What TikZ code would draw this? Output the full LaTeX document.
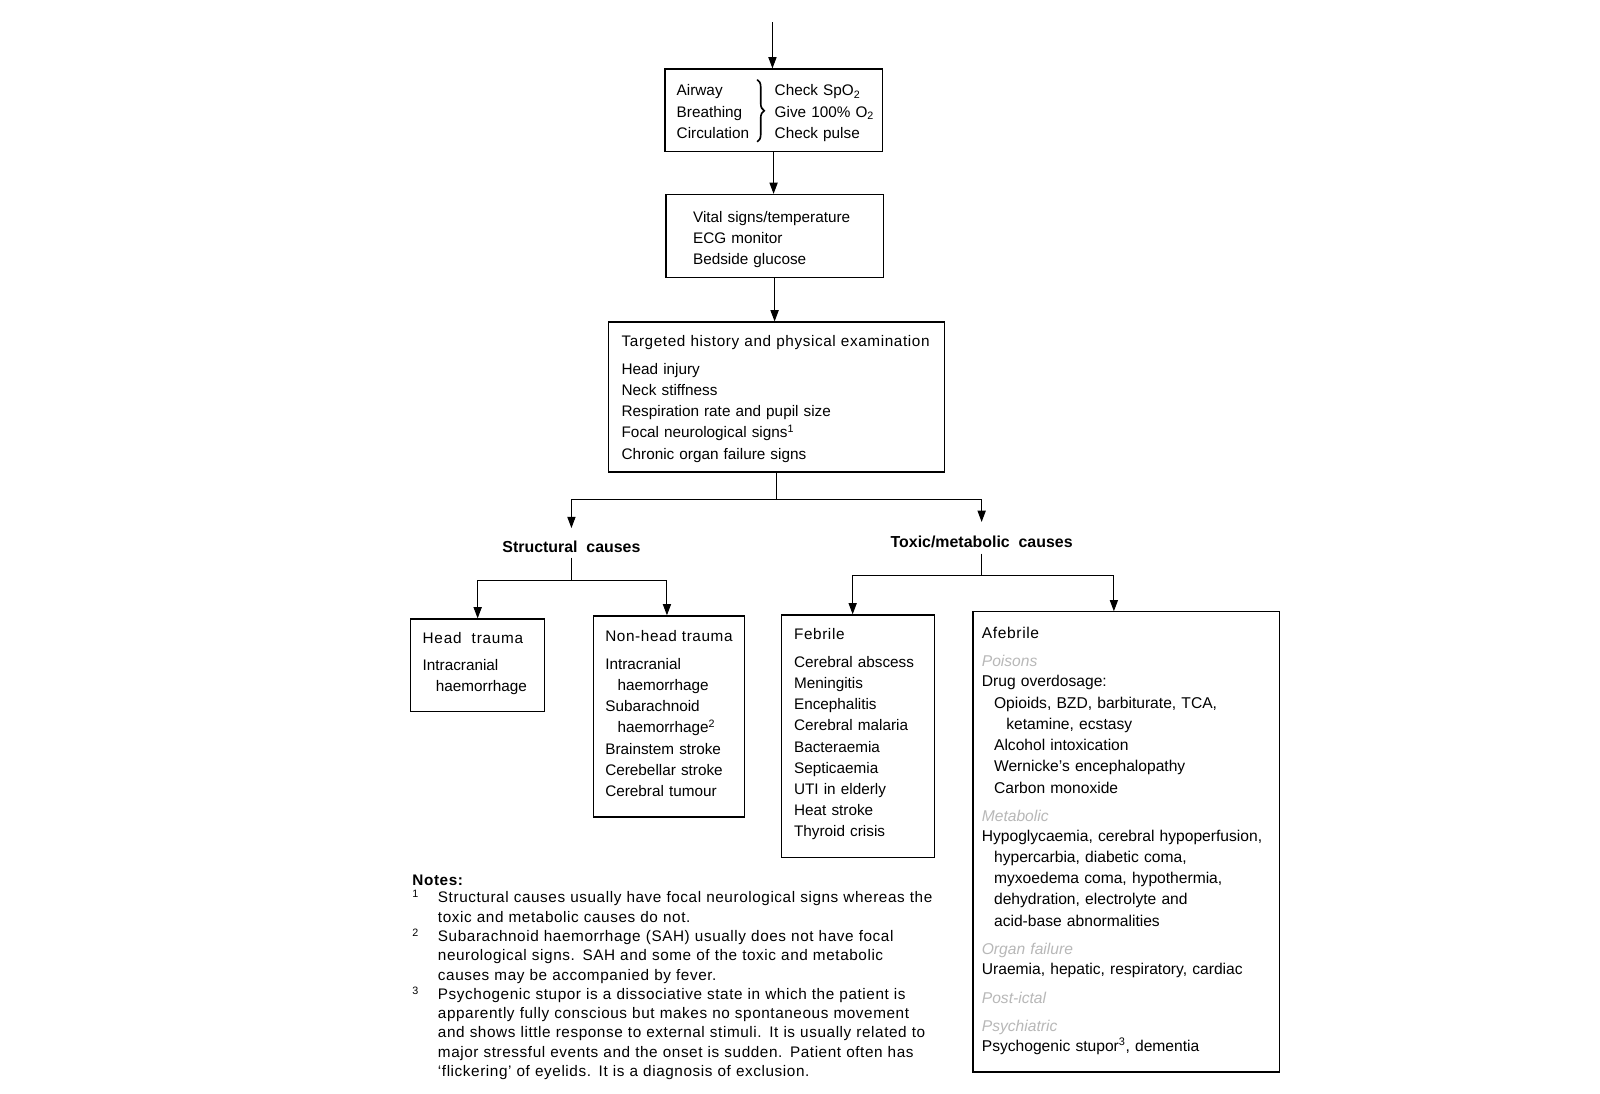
\documentclass[tikz,border=0pt]{standalone}
\usepackage{fontspec}
\setmainfont{Liberation Sans}
\usetikzlibrary{arrows.meta,decorations.pathreplacing,calc}
\newcommand{\spaced}[1]{{\addfontfeature{LetterSpace=4}#1}}
\begin{document}
\begin{tikzpicture}[x=1pt,y=-1pt,
  box/.style={draw, line width=1.2pt, anchor=north west, inner sep=0pt, rectangle},
  txt/.style={anchor=base west, inner sep=0pt, align=left, text width=#1, font=\fontsize{15}{20.8}\selectfont},
  txt/.default=420pt,
  lbl/.style={anchor=base, inner sep=5pt, font=\fontsize{15.6}{18}\selectfont\bfseries},
  arr/.style={line width=1pt, -{Triangle[length=11pt,width=8pt]}},
  ln/.style={line width=1pt}]
\useasboundingbox (0,0) rectangle (1568,1072);
\fill[white] (0,0) rectangle (1568,1072);

% boxes
\node[box, minimum width=213pt, minimum height=81pt] (abc) at (651,67) {};
\node[box, minimum width=213pt, minimum height=81pt] (vital) at (652,190) {};
\node[box, minimum width=329pt, minimum height=147pt] (hist) at (596,315) {};
\node[box, minimum width=131pt, minimum height=91pt] (head) at (402,606) {};
\node[box, minimum width=148pt, minimum height=197pt] (nonhead) at (581,603) {};
\node[box, minimum width=150pt, minimum height=238pt] (feb) at (765,602) {};
\node[box, minimum width=300pt, minimum height=451pt] (afeb) at (953,599) {};

% ABC content
\node[txt] (abcl) at (663,94) {Airway\\Breathing\\Circulation};
\node[txt] (abcr) at (759,94) {Check SpO\textsubscript{2}\\Give 100\% O\textsubscript{2}\\Check pulse};
\draw[line width=1.6pt, decorate, decoration={brace, amplitude=7pt}] (742,78) -- (742,139);

% vital
\node[txt] (vitalt) at (679,218) {Vital signs/temperature\\ECG monitor\\Bedside glucose};

% history
\node[txt] (histt) at (609,340) {\spaced{Targeted history and physical examination}\\[6pt]
Head injury\\Neck stiffness\\Respiration rate and pupil size\\Focal neurological signs\textsuperscript{1}\\Chronic organ failure signs};

% labels
\node[lbl] (struct) at (560,541) {Structural\ \ causes};
\node[lbl] (toxic) at (962,537) {Toxic/metabolic\ \ causes};

% head trauma
\node[txt] (headt) at (414,631) {{\addfontfeature{LetterSpace=5}Head\ \ trauma}\\[5pt]Intracranial\\\hspace*{13pt}haemorrhage};

% non-head
\node[txt] (nonheadt) at (593,629) {\spaced{Non-head trauma}\\[6pt]
Intracranial\\\hspace*{12pt}haemorrhage\\Subarachnoid\\\hspace*{12pt}haemorrhage\textsuperscript{2}\\Brainstem stroke\\Cerebellar stroke\\Cerebral tumour};

% febrile
\node[txt] (febt) at (778,627) {\spaced{Febrile}\\[6pt]
Cerebral abscess\\Meningitis\\Encephalitis\\Cerebral malaria\\Bacteraemia\\Septicaemia\\UTI in elderly\\Heat stroke\\Thyroid crisis};

% afebrile
\node[txt, font=\fontsize{15.3}{20.8}\selectfont] (afebt) at (962,626) {\spaced{Afebrile}\\[6.3pt]
{\color{black!28}\itshape Poisons}\\[-0.7pt]
Drug overdosage:\\
\hspace*{12pt}Opioids, BZD, barbiturate, TCA,\\
\hspace*{24pt}ketamine, ecstasy\\
\hspace*{12pt}Alcohol intoxication\\
\hspace*{12pt}Wernicke's encephalopathy\\
\hspace*{12pt}Carbon monoxide\\[7.3pt]
{\color{black!28}\itshape Metabolic}\\[-1.7pt]
Hypoglycaemia, cerebral hypoperfusion,\\
\hspace*{12pt}hypercarbia, diabetic coma,\\
\hspace*{12pt}myxoedema coma, hypothermia,\\
\hspace*{12pt}dehydration, electrolyte and\\
\hspace*{12pt}acid-base abnormalities\\[7.3pt]
{\color{black!28}\itshape Organ failure}\\[-1.7pt]
Uraemia, hepatic, respiratory, cardiac\\[8.3pt]
{\color{black!28}\itshape Post-ictal}\\[6.3pt]
{\color{black!28}\itshape Psychiatric}\\[-1.7pt]
Psychogenic stupor\textsuperscript{3}, dementia};

% notes
\node[txt=700pt, font=\fontsize{15}{18.9}\selectfont\addfontfeature{LetterSpace=3.8}] (notes) at (404,868) {\textbf{Notes:}\\[-2pt]
\makebox[25pt][l]{\textsuperscript{1}}Structural causes usually have focal neurological signs whereas the\\
\hspace*{25pt}toxic and metabolic causes do not.\\
\makebox[25pt][l]{\textsuperscript{2}}Subarachnoid haemorrhage (SAH) usually does not have focal\\
\hspace*{25pt}neurological signs. SAH and some of the toxic and metabolic\\
\hspace*{25pt}causes may be accompanied by fever.\\
\makebox[25pt][l]{\textsuperscript{3}}Psychogenic stupor is a dissociative state in which the patient is\\
\hspace*{25pt}apparently fully conscious but makes no spontaneous movement\\
\hspace*{25pt}and shows little response to external stimuli. It is usually related to\\
\hspace*{25pt}major stressful events and the onset is sudden. Patient often has\\
\hspace*{25pt}`flickering' of eyelids. It is a diagnosis of exclusion.};

% connectors
\coordinate (start) at (757,22);
\draw[arr] (start) -- (start |- abc.north);
\draw[arr] (abc.south) -- (abc.south |- vital.north);
\draw[arr] (vital.south) -- (vital.south |- hist.north);
\coordinate (br1) at ($(hist.south)+(0,26)$);
\draw[ln] (hist.south) -- (br1);
\draw[arr, shorten >=7pt] (br1) -| (struct.north);
\draw[arr, shorten >=9pt] (br1) -| (toxic.north);
\coordinate (br2) at ($(struct.south)+(0,23)$);
\draw[ln] (struct.south) -- (br2);
\draw[arr] (br2) -| (head.north);
\draw[arr] (br2) -| ([xshift=-2pt]nonhead.north);
\coordinate (br3) at ($(toxic.south)+(0,21)$);
\draw[ln] (toxic.south) -- (br3);
\draw[arr] (br3) -| ([xshift=-5pt]feb.north);
\draw[arr] (br3) -| ([xshift=-12pt]afeb.north);
\end{tikzpicture}
\end{document}
